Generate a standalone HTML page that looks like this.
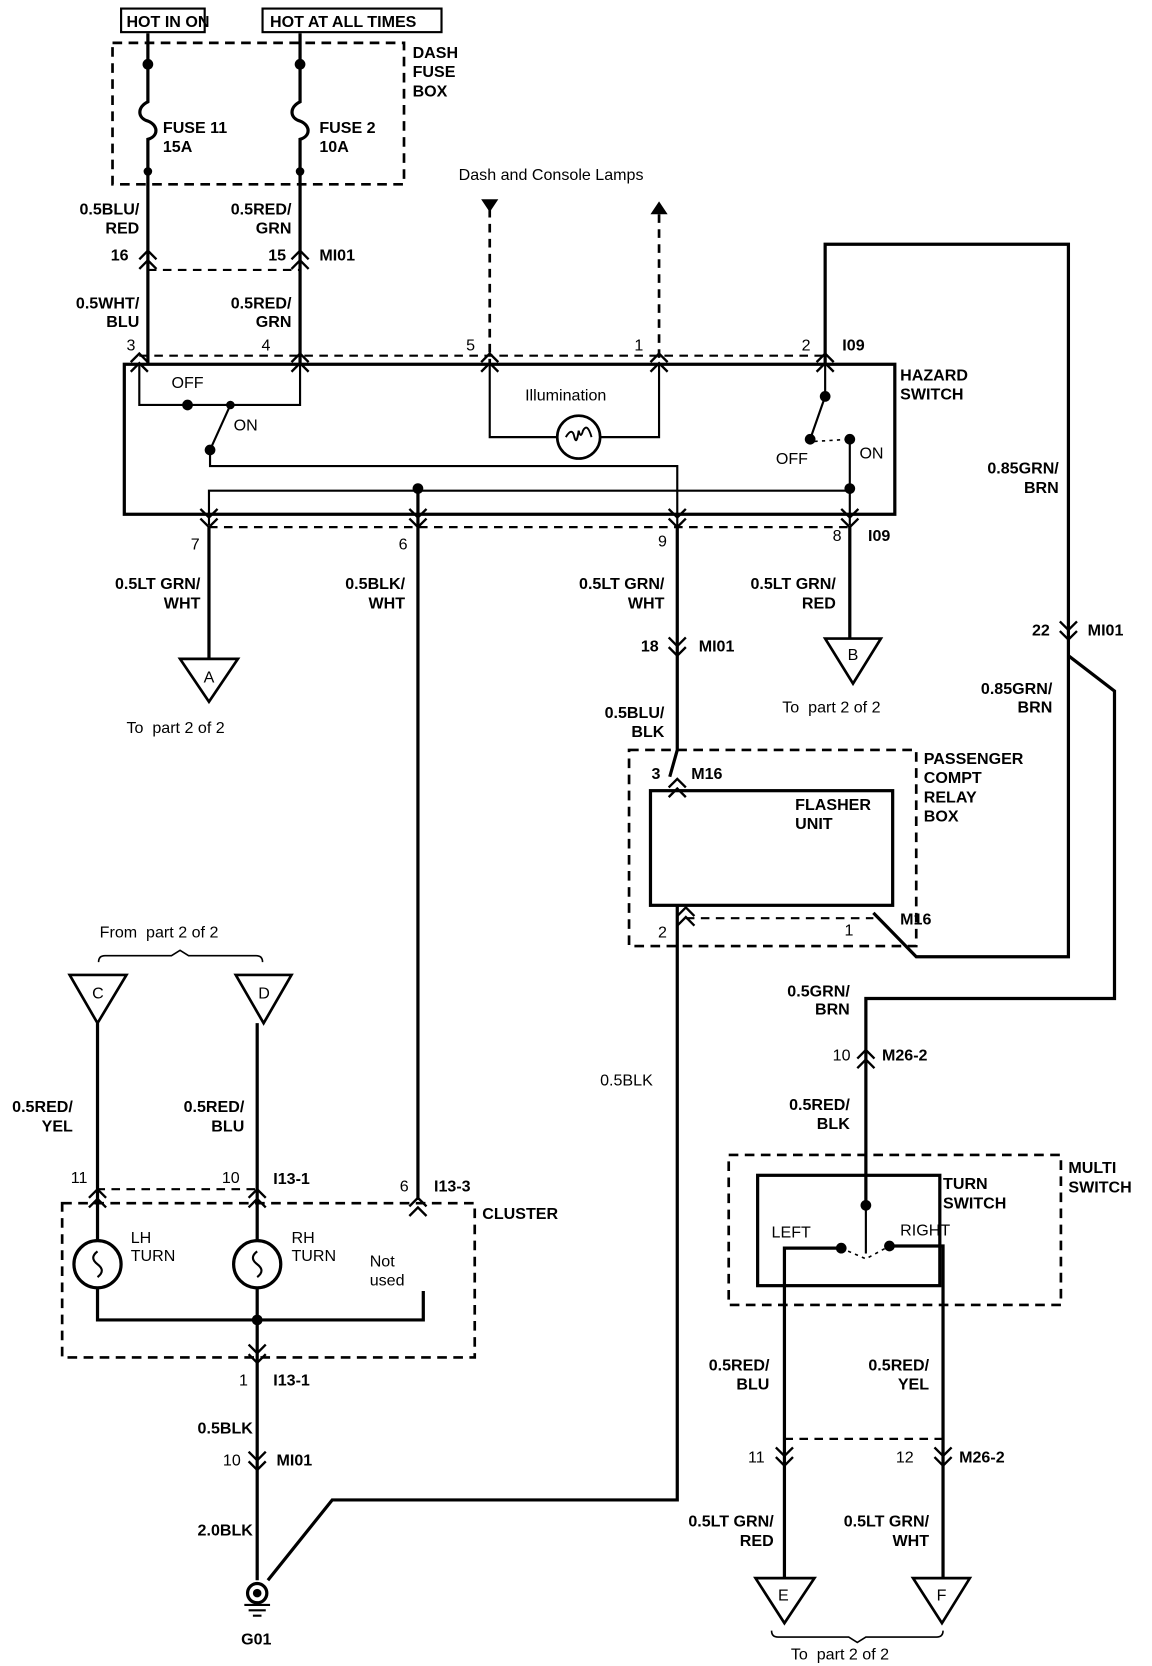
<!DOCTYPE html>
<html><head><meta charset="utf-8"><style>
html,body{margin:0;padding:0;background:#fff}
svg{display:block}
text{font-family:"Liberation Sans",Arial,sans-serif;font-weight:bold;font-size:15px;fill:#000}
.n{font-weight:normal}
</style></head><body>
<svg width="1152" height="1666" viewBox="0 0 1075 1555" preserveAspectRatio="none" xmlns="http://www.w3.org/2000/svg">
<defs>
<g id="cu" fill="none" stroke="#000" stroke-width="2.2"><path d="M-8,8 L0,0 L8,8 M-8,17 L0,9 L8,17"/></g>
<g id="cd" fill="none" stroke="#000" stroke-width="2.2"><path d="M-8,-8 L0,0 L8,-8 M-8,-17 L0,-9 L8,-17"/></g>
</defs>
<g fill="none" stroke="#000" stroke-width="3">
<rect x="113" y="8" width="78" height="22" stroke-width="2"/>
<rect x="245" y="8" width="167" height="22" stroke-width="2"/>
<rect x="105" y="40" width="272" height="132" stroke-dasharray="9,6" stroke-width="2.5"/>
<path d="M138,31 V95 C128,100 128,110 138,113 C148,117 148,127 138,130 V340"/>
<path d="M280,31 V95 C270,100 270,110 280,113 C290,117 290,127 280,130 V340"/>
<path d="M138,252 H280 M130,332 H770" stroke-dasharray="8,6" stroke-width="2"/>
<rect x="116" y="340" width="719" height="140"/>
<path d="M130,340 V378 H280 V340" stroke-width="2"/>
<path d="M196,420 L215,378" stroke-width="2"/>
<path d="M196,420 V435 H632 V490" stroke-width="2"/>
<path d="M457,195 V340 M615,200 V340" stroke-dasharray="8,6" stroke-width="2.5"/>
<path d="M457,340 V408 H520 M560,408 H615 V340" stroke-width="2"/>
<circle cx="540" cy="408" r="20" stroke-width="2.5"/>
<path d="M528,408 q6,-10 8,0 q2,8 4,-6 q2,8 4,0 q4,-8 8,6" stroke-width="1.8"/>
<path d="M770,230 V370 L756,410" stroke-width="2"/>
<path d="M760,412 L793,410" stroke-width="1.5" stroke-dasharray="3,4"/>
<path d="M793,410 V490" stroke-width="2"/>
<path d="M195,490 V458 H793" stroke-width="2"/>
<path d="M390,458 V1120"/>
<path d="M195,492 H793" stroke-dasharray="8,6" stroke-width="2"/>
<path d="M195,492 V615"/>
<path d="M632,490 V700 L625,725 M632,725 M632,845 V1400 H310 L250,1475"/>
<path d="M793,492 V596"/>
<path d="M770,340 V228 H997 V893 H855 L815,852"/>
<path d="M997,612 L1040,645 V932 H808 V1125"/>
<path d="M168,615 H222 L195,655 Z M770,596 H822 L796,638 Z" stroke-width="2.5"/>
<path d="M65,910 H118 L91,955 Z M220,910 H272 L246,955 Z" stroke-width="2.5"/>
<path d="M705,1473 H760 L732,1515 Z M852,1473 H905 L879,1515 Z" stroke-width="2.5"/>
<path d="M92,898 q0,-6 6,-6 H160 l8,-5 l8,5 H239 q6,0 6,6" stroke-width="1.5"/>
<path d="M720,1522 q0,6 6,6 H792 l8,5 l8,-5 H874 q6,0 6,-6" stroke-width="1.5"/>
<rect x="587" y="700" width="268" height="183" stroke-dasharray="9,6" stroke-width="2.5"/>
<rect x="607" y="738" width="226" height="107"/>
<path d="M640,857 H815" stroke-dasharray="8,6" stroke-width="2"/>
<rect x="58" y="1123" width="385" height="144" stroke-dasharray="9,6" stroke-width="2.5"/>
<path d="M90,1110 H240" stroke-dasharray="8,6" stroke-width="2"/>
<path d="M91,955 V1158 M91,1202 V1232 H395 V1205 M240,955 V1158 M240,1202 V1475"/>
<circle cx="91" cy="1180" r="22"/><circle cx="240" cy="1180" r="22"/>
<path d="M91,1168 q-8,6 0,12 q8,6 0,12 M240,1168 q-8,6 0,12 q8,6 0,12" stroke-width="2"/>
<circle cx="240" cy="1487" r="9"/>
<rect x="680" y="1078" width="310" height="140" stroke-dasharray="9,6" stroke-width="2.5"/>
<rect x="707" y="1097" width="170" height="103"/>
<path d="M808,1125 V1170" stroke-width="2"/>
<path d="M785,1165 L808,1175 L830,1163" stroke-width="1.5" stroke-dasharray="3,4"/>
<path d="M785,1165 H732 V1473 M830,1163 H880 V1473"/>
<path d="M732,1343 H880" stroke-dasharray="8,6" stroke-width="2"/>
</g>
<g fill="#000">
<circle cx="138" cy="60" r="5"/><circle cx="138" cy="160" r="4"/>
<circle cx="280" cy="60" r="5"/><circle cx="280" cy="160" r="4"/>
<circle cx="175" cy="378" r="5"/><circle cx="215" cy="378" r="4"/><circle cx="196" cy="420" r="5"/>
<circle cx="770" cy="370" r="5"/><circle cx="756" cy="410" r="5"/><circle cx="793" cy="410" r="5"/>
<circle cx="390" cy="456" r="5"/><circle cx="793" cy="456" r="5"/>
<circle cx="240" cy="1232" r="5"/><circle cx="808" cy="1125" r="5"/>
<circle cx="785" cy="1165" r="5"/><circle cx="830" cy="1163" r="5"/>
<circle cx="240" cy="1487" r="4"/>
<path d="M449,186 H465 L457,198 Z M607,200 H623 L615,188 Z"/>
<path d="M228,1498 H252 M232,1503 H248 M236,1508 H244" stroke="#000" stroke-width="2"/>
</g>
<use href="#cu" x="138" y="234"/><use href="#cu" x="280" y="234"/>
<use href="#cu" x="130" y="330"/><use href="#cu" x="280" y="330"/><use href="#cu" x="457" y="330"/><use href="#cu" x="615" y="330"/><use href="#cu" x="770" y="330"/>
<use href="#cd" x="195" y="492"/><use href="#cd" x="390" y="492"/><use href="#cd" x="632" y="492"/><use href="#cd" x="793" y="492"/>
<use href="#cd" x="632" y="612"/><use href="#cd" x="997" y="597"/>
<use href="#cu" x="632" y="727"/>
<use href="#cu" x="640" y="847"/>
<use href="#cu" x="808" y="980"/>
<use href="#cu" x="91" y="1110"/><use href="#cu" x="240" y="1110"/><use href="#cu" x="390" y="1118"/>
<use href="#cd" x="240" y="1272"/><use href="#cd" x="240" y="1372"/>
<use href="#cd" x="732" y="1368"/><use href="#cd" x="880" y="1368"/>
<text x="118" y="25">HOT IN ON</text>
<text x="252" y="25">HOT AT ALL TIMES</text>
<text x="385" y="54">DASH</text><text x="385" y="72">FUSE</text><text x="385" y="90">BOX</text>
<text x="152" y="124">FUSE 11</text><text x="152" y="142">15A</text>
<text x="298" y="124">FUSE 2</text><text x="298" y="142">10A</text>
<text x="428" y="168" class="n">Dash and Console Lamps</text>
<g text-anchor="end">
<text x="130" y="200">0.5BLU/</text><text x="130" y="218">RED</text>
<text x="272" y="200">0.5RED/</text><text x="272" y="218">GRN</text>
<text x="120" y="243">16</text><text x="267" y="243">15</text>
<text x="130" y="288">0.5WHT/</text><text x="130" y="305">BLU</text>
<text x="272" y="288">0.5RED/</text><text x="272" y="305">GRN</text>
<text x="187" y="550">0.5LT GRN/</text><text x="187" y="568">WHT</text>
<text x="378" y="550">0.5BLK/</text><text x="378" y="568">WHT</text>
<text x="620" y="550">0.5LT GRN/</text><text x="620" y="568">WHT</text>
<text x="780" y="550">0.5LT GRN/</text><text x="780" y="568">RED</text>
<text x="620" y="670">0.5BLU/</text><text x="620" y="688">BLK</text>
<text x="988" y="442">0.85GRN/</text><text x="988" y="460">BRN</text>
<text x="982" y="648">0.85GRN/</text><text x="982" y="665">BRN</text>
<text x="793" y="930">0.5GRN/</text><text x="793" y="947">BRN</text>
<text x="793" y="1036">0.5RED/</text><text x="793" y="1054">BLK</text>
<text x="68" y="1038">0.5RED/</text><text x="68" y="1056">YEL</text>
<text x="228" y="1038">0.5RED/</text><text x="228" y="1056">BLU</text>
<text x="236" y="1338">0.5BLK</text><text x="236" y="1433">2.0BLK</text>
<text x="718" y="1279">0.5RED/</text><text x="718" y="1297">BLU</text>
<text x="867" y="1279">0.5RED/</text><text x="867" y="1297">YEL</text>
<text x="722" y="1425">0.5LT GRN/</text><text x="722" y="1443">RED</text>
<text x="867" y="1425">0.5LT GRN/</text><text x="867" y="1443">WHT</text>
</g>
<text x="298" y="243">MI01</text>
<text x="118" y="327" class="n">3</text><text x="244" y="327" class="n">4</text><text x="435" y="327" class="n">5</text><text x="592" y="327" class="n">1</text><text x="748" y="327" class="n">2</text><text x="786" y="327">I09</text>
<text x="840" y="355">HAZARD</text><text x="840" y="373">SWITCH</text>
<text x="160" y="362" class="n">OFF</text><text x="218" y="402" class="n">ON</text>
<text x="490" y="374" class="n">Illumination</text>
<text x="724" y="433" class="n">OFF</text><text x="802" y="428" class="n">ON</text>
<text x="178" y="513" class="n">7</text><text x="372" y="513" class="n">6</text><text x="614" y="510" class="n">9</text><text x="777" y="505" class="n">8</text><text x="810" y="505">I09</text>
<text x="118" y="684" class="n">To &#160;part 2 of 2</text>
<text x="730" y="665" class="n">To &#160;part 2 of 2</text>
<text x="190" y="637" class="n">A</text><text x="791" y="616" class="n">B</text>
<text x="598" y="608">18</text><text x="652" y="608">MI01</text>
<text x="963" y="593">22</text><text x="1015" y="593">MI01</text>
<text x="862" y="713">PASSENGER</text><text x="862" y="731">COMPT</text><text x="862" y="749">RELAY</text><text x="862" y="767">BOX</text>
<text x="742" y="756">FLASHER</text><text x="742" y="774">UNIT</text>
<text x="608" y="727">3</text><text x="645" y="727">M16</text>
<text x="614" y="875" class="n">2</text><text x="788" y="873" class="n">1</text><text x="840" y="863">M16</text>
<text x="560" y="1013" class="n">0.5BLK</text>
<text x="777" y="990" class="n">10</text><text x="823" y="990">M26-2</text>
<text x="93" y="875" class="n">From &#160;part 2 of 2</text>
<text x="86" y="932" class="n">C</text><text x="241" y="932" class="n">D</text>
<text x="66" y="1104" class="n">11</text><text x="207" y="1104" class="n">10</text><text x="255" y="1105">I13-1</text>
<text x="373" y="1112" class="n">6</text><text x="405" y="1112">I13-3</text>
<text x="450" y="1138">CLUSTER</text>
<text x="122" y="1160" class="n">LH</text><text x="122" y="1177" class="n">TURN</text>
<text x="272" y="1160" class="n">RH</text><text x="272" y="1177" class="n">TURN</text>
<text x="345" y="1182" class="n">Not</text><text x="345" y="1200" class="n">used</text>
<text x="223" y="1293" class="n">1</text><text x="255" y="1293">I13-1</text>
<text x="208" y="1368" class="n">10</text><text x="258" y="1368">MI01</text>
<text x="225" y="1535">G01</text>
<text x="997" y="1095">MULTI</text><text x="997" y="1113">SWITCH</text>
<text x="880" y="1110">TURN</text><text x="880" y="1128">SWITCH</text>
<text x="720" y="1155" class="n">LEFT</text><text x="840" y="1153" class="n">RIGHT</text>
<text x="698" y="1365" class="n">11</text><text x="836" y="1365" class="n">12</text><text x="895" y="1365">M26-2</text>
<text x="726" y="1494" class="n">E</text><text x="874" y="1494" class="n">F</text>
<text x="738" y="1549" class="n">To &#160;part 2 of 2</text>
</svg>
</body></html>
